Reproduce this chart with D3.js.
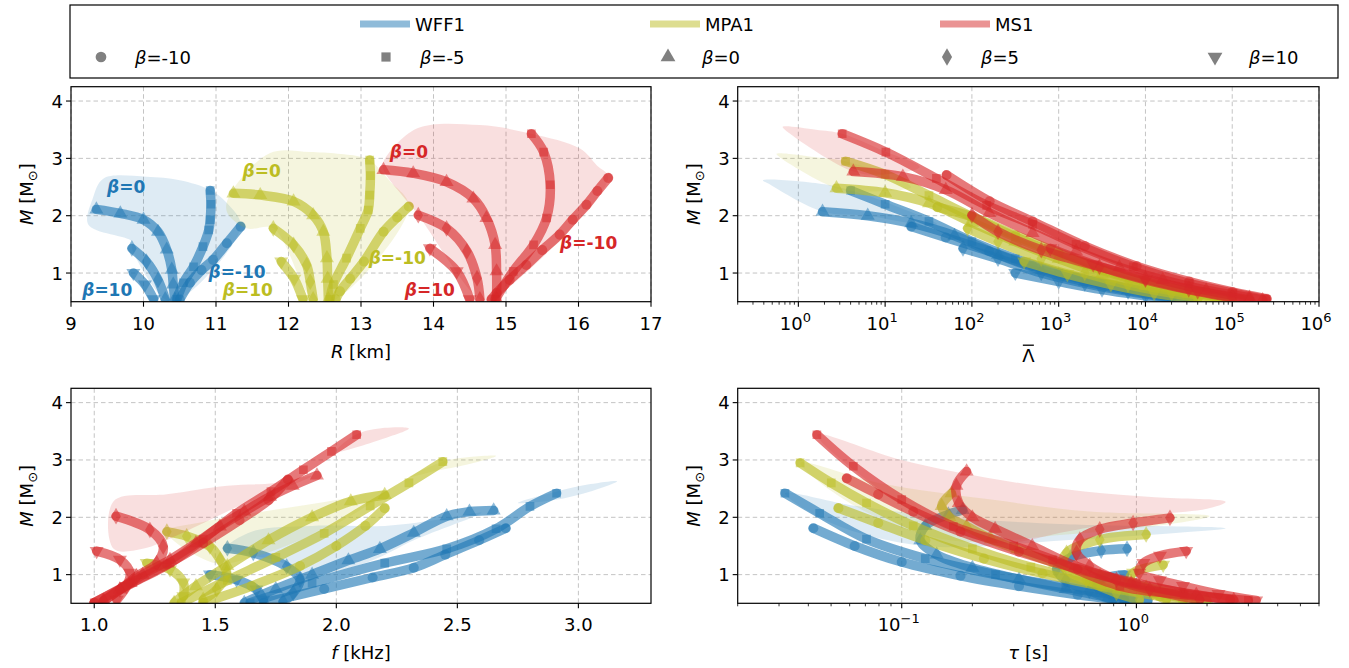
<!DOCTYPE html>
<html><head><meta charset="utf-8">
<script src="https://cdn.jsdelivr.net/npm/d3@7"></script>
<style>body{margin:0;background:#fff;} text{font-family:"DejaVu Sans",sans-serif;fill:#000;}</style>
</head><body><svg id="c" width="1349" height="668"></svg>
<script>
// ---------------- DATA ----------------
const eosNames = ["WFF1", "MPA1", "MS1"];
const eosColors = ["#1f77b4", "#bcbd22", "#d62728"];
const legendPatchColors = ["#8fbbd9", "#dddd90", "#ea9393"];
const betaValues = ["-10", "-5", "0", "5", "10"];

const rTicks = [9, 10, 11, 12, 13, 14, 15, 16, 17];
const fTicks = [1.0, 1.5, 2.0, 2.5, 3.0];
const mTicks = [1, 2, 3, 4];
const lambdaTicks = [1, 10, 100, 1000, 10000, 100000, 1000000];
const lambdaTickExp = ["0", "1", "2", "3", "4", "5", "6"];
const tauTicks = [0.1, 1];
const tauTickExp = ["−1", "0"];

// M–R curves, per EOS: beta = -10, -5, 0, 5, 10 ; points [R km, M Msun]
const mrWFF1 = [
  [[10.5,0.54],[10.64,0.83],[10.8,1.05],[10.96,1.23],[11.15,1.52],[11.34,1.81]],
  [[10.46,0.54],[10.55,0.83],[10.69,1.11],[10.82,1.46],[10.9,1.75],[10.92,1.93],[10.93,2.2],[10.92,2.44]],
  [[10.43,0.54],[10.41,0.8],[10.39,1.06],[10.32,1.41],[10.2,1.72],[10.0,1.93],[9.68,2.04],[9.35,2.11]],
  [[10.3,0.54],[10.2,0.88],[10.04,1.2],[9.84,1.43]],
  [[10.14,0.54],[10.02,0.8],[9.86,1.0]]
];
const mrMPA1 = [
  [[12.65,0.54],[12.71,0.68],[12.85,0.9],[13.04,1.2],[13.31,1.72],[13.5,1.97],[13.66,2.16]],
  [[12.57,0.54],[12.62,0.8],[12.8,1.26],[12.99,1.78],[13.1,2.1],[13.12,2.36],[13.13,2.7],[13.12,2.97]],
  [[12.55,0.54],[12.54,0.9],[12.53,1.26],[12.48,1.72],[12.34,2.01],[12.07,2.25],[11.61,2.36],[11.24,2.39]],
  [[12.34,0.54],[12.3,0.85],[12.25,1.14],[12.07,1.49],[11.79,1.78]],
  [[12.2,0.54],[12.08,0.9],[11.9,1.2]]
];
const mrMS1 = [
  [[14.8,0.54],[14.87,0.65],[15.05,0.88],[15.28,1.14],[15.5,1.4],[15.74,1.67],[15.92,1.93],[16.11,2.19],[16.26,2.43],[16.41,2.66]],
  [[14.85,0.54],[15.1,1.03],[15.38,1.49],[15.56,1.96],[15.61,2.54],[15.52,3.11],[15.35,3.43]],
  [[14.87,0.54],[14.87,1.03],[14.85,1.49],[14.73,1.96],[14.55,2.3],[14.18,2.59],[13.72,2.74],[13.31,2.8]],
  [[14.64,0.54],[14.6,0.91],[14.46,1.38],[14.18,1.78],[13.79,2.01]],
  [[14.5,0.54],[14.32,1.03],[13.95,1.43]]
];
const mrFanWFF1 = [[9.24,1.84],[9.3,2.3],[9.45,2.65],[10.04,2.68],[10.5,2.62],[10.92,2.45],[11.15,2.22],[11.34,1.81],[10.5,0.54],[10.3,0.54],[9.84,1.43],[9.84,1.55]];
const mrFanMPA1 = [[11.19,2.36],[11.74,3.09],[12.3,3.11],[12.99,3.03],[13.12,2.97],[13.4,2.6],[13.66,2.16],[12.65,0.54],[12.34,0.54],[11.79,1.78],[11.42,1.78],[11.15,2.07]];
const mrFanMS1 = [[13.31,2.94],[13.77,3.52],[14.64,3.58],[15.35,3.43],[16.02,3.17],[16.25,2.88],[16.41,2.66],[14.8,0.54],[14.64,0.54],[13.79,2.01],[13.31,2.8]];

// M–Lambda curves [Lambda, M]
const mlWFF1 = [
  [[20,1.81],[50,1.62],[158,1.38],[500,1.12],[1585,0.92],[5000,0.76],[15850,0.63],[35500,0.55]],
  [[4,2.44],[10,2.2],[32,1.9],[100,1.55],[316,1.25],[1000,1.0],[3160,0.82],[10000,0.67],[31600,0.55]],
  [[1.9,2.07],[6.3,2.0],[20,1.87],[63,1.65],[200,1.32],[630,1.05],[2000,0.85],[6300,0.7],[15850,0.6],[31600,0.53]],
  [[79,1.43],[200,1.25],[630,1.0],[2000,0.82],[6300,0.68],[20000,0.56]],
  [[316,1.0],[1000,0.85],[3160,0.71],[10000,0.6],[20000,0.54]]
];
const mlMPA1 = [
  [[40,2.15],[100,1.98],[316,1.66],[1000,1.35],[3160,1.07],[10000,0.85],[31600,0.68],[100000,0.55]],
  [[3.5,2.95],[10,2.72],[32,2.35],[100,1.98],[316,1.63],[1000,1.32],[3160,1.05],[10000,0.83],[31600,0.67],[100000,0.54]],
  [[2.75,2.48],[10,2.4],[32,2.22],[100,1.88],[316,1.55],[1000,1.25],[3160,0.98],[10000,0.78],[31600,0.64],[89000,0.53]],
  [[89,1.78],[200,1.55],[630,1.25],[2000,1.0],[6300,0.8],[20000,0.65],[63000,0.53]],
  [[400,1.2],[1260,0.98],[4000,0.8],[12600,0.65],[40000,0.54]]
];
const mlMS1 = [
  [[51,2.71],[160,2.25],[500,1.9],[2000,1.47],[7900,1.12],[32000,0.85],[100000,0.67],[250000,0.55]],
  [[3.2,3.43],[10.2,3.11],[39,2.65],[148,2.18],[500,1.85],[1585,1.5],[7244,1.11],[31600,0.82],[102000,0.65],[245000,0.54]],
  [[4.3,2.77],[16,2.68],[50,2.45],[158,2.05],[500,1.7],[1585,1.38],[5000,1.1],[15850,0.88],[50000,0.7],[158000,0.57],[224000,0.53]],
  [[100,2.01],[200,1.72],[630,1.4],[2950,1.11],[10000,0.9],[31600,0.72],[100000,0.58],[158000,0.53]],
  [[800,1.43],[2500,1.15],[10000,0.88],[40000,0.68],[126000,0.54]]
];
const mlFanWFF1 = [[0.39,2.62],[2,2.55],[5,2.4],[16,2.12],[40,1.85],[20,1.87],[6.3,2.0],[1.9,2.07],[0.45,2.56]];
const mlFanMPA1 = [[0.56,3.08],[2,3.0],[3.5,2.95],[10,2.72],[20,2.5],[6,2.42],[2.75,2.48],[0.6,3.03]];
const mlFanMS1 = [[0.66,3.55],[1.6,3.5],[3.2,3.43],[10,3.12],[25,2.85],[10,2.72],[4.3,2.77],[0.7,3.5]];

// M–f curves [f kHz, M]
const mfWFF1 = [
  [[1.7,0.51],[1.95,0.75],[2.15,0.95],[2.32,1.12],[2.45,1.35],[2.59,1.6],[2.7,1.81]],
  [[1.644,0.51],[1.9,0.85],[2.2,1.2],[2.456,1.45],[2.66,1.8],[2.8,2.19],[2.91,2.42]],
  [[1.62,0.51],[1.75,0.75],[1.9,1.0],[2.05,1.25],[2.18,1.45],[2.32,1.73],[2.456,2.02],[2.55,2.1],[2.65,2.12]],
  [[1.78,0.53],[1.822,0.68],[1.85,0.91],[1.795,1.14],[1.657,1.38],[1.55,1.46]],
  [[1.698,0.56],[1.67,0.74],[1.588,0.91],[1.478,1.0]]
];
const mfMPA1 = [
  [[1.45,0.51],[1.65,0.8],[1.85,1.15],[2.0,1.5],[2.12,1.85],[2.2,2.16]],
  [[1.36,0.51],[1.55,0.9],[1.75,1.3],[1.95,1.72],[2.14,2.2],[2.3,2.6],[2.44,2.97]],
  [[1.33,0.51],[1.42,0.8],[1.55,1.15],[1.72,1.6],[1.9,2.0],[2.06,2.28],[2.2,2.39]],
  [[1.45,0.56],[1.506,0.74],[1.547,1.03],[1.52,1.26],[1.478,1.49],[1.382,1.67],[1.3,1.75]],
  [[1.368,0.62],[1.368,0.86],[1.313,1.09],[1.217,1.2]]
];
const mfMS1 = [
  [[1.0,0.51],[1.15,0.85],[1.3,1.18],[1.45,1.55],[1.6,1.95],[1.72,2.3],[1.8,2.66]],
  [[1.0,0.51],[1.16,0.86],[1.313,1.2],[1.45,1.62],[1.588,2.07],[1.73,2.45],[1.864,2.83],[1.98,3.15],[2.084,3.44]],
  [[1.04,0.54],[1.106,0.74],[1.2,1.0],[1.313,1.26],[1.42,1.55],[1.519,1.84],[1.62,2.1],[1.726,2.36],[1.82,2.55],[1.92,2.73]],
  [[1.037,0.54],[1.106,0.74],[1.175,0.97],[1.258,1.2],[1.285,1.49],[1.23,1.78],[1.09,2.02]],
  [[1.093,0.56],[1.134,0.8],[1.148,1.03],[1.106,1.26],[1.01,1.41]]
];
const mfFanWFF1 = [[[1.55,1.46],[1.65,1.75],[1.9,1.85],[2.2,1.85],[2.45,1.98],[2.6,2.08],[2.32,1.6],[2.15,1.25],[1.95,1.0],[1.85,0.9],[1.78,1.2]],
                   [[2.75,2.25],[2.91,2.45],[3.05,2.58],[3.16,2.63],[3.05,2.45],[2.9,2.3]]];
const mfFanMPA1 = [[[1.3,1.75],[1.45,1.92],[1.7,2.1],[2.0,2.3],[2.2,2.45],[2.05,2.0],[1.85,1.6],[1.65,1.3],[1.5,1.2]],
                   [[2.3,2.7],[2.44,2.97],[2.55,3.05],[2.66,3.07],[2.55,2.93],[2.4,2.8]]];
const mfFanMS1 = [[[1.08,1.45],[1.08,2.28],[1.3,2.4],[1.55,2.55],[1.75,2.6],[1.9,2.72],[1.6,2.2],[1.35,1.7],[1.2,1.45]],
                  [[2.0,3.15],[2.08,3.44],[2.2,3.56],[2.3,3.55],[2.2,3.38]]];

// M–tau curves [tau s, M]
const mtWFF1 = [
  [[0.042,1.81],[0.063,1.5],[0.1,1.22],[0.178,0.98],[0.316,0.8],[0.562,0.65],[0.89,0.55]],
  [[0.0318,2.42],[0.0447,2.07],[0.0708,1.62],[0.126,1.28],[0.251,1.0],[0.5,0.78],[0.89,0.62],[1.12,0.55]],
  [[0.182,2.13],[0.158,2.05],[0.126,1.85],[0.12,1.6],[0.141,1.35],[0.2,1.12],[0.316,0.92],[0.5,0.75],[0.76,0.6],[0.89,0.54]],
  [[0.912,1.45],[0.708,1.42],[0.525,1.3],[0.457,1.1],[0.5,0.9],[0.63,0.72],[0.794,0.56]],
  [[0.89,1.0],[0.708,0.92],[0.676,0.8],[0.794,0.65],[0.955,0.55]]
];
const mtMPA1 = [
  [[0.0537,2.16],[0.0794,1.9],[0.126,1.6],[0.224,1.28],[0.398,1.02],[0.708,0.8],[1.26,0.62],[1.58,0.55]],
  [[0.0369,2.95],[0.0501,2.6],[0.0708,2.25],[0.112,1.85],[0.2,1.45],[0.355,1.13],[0.63,0.88],[1.12,0.7],[1.78,0.56]],
  [[0.163,2.42],[0.148,2.2],[0.16,2.0],[0.189,1.84],[0.24,1.62],[0.31,1.44],[0.45,1.2],[0.7,0.98],[1.1,0.78],[1.6,0.62],[2.0,0.55]],
  [[1.1,1.7],[0.698,1.61],[0.504,1.38],[0.488,1.15],[0.612,0.91],[0.822,0.68],[1.03,0.56]],
  [[1.3,1.17],[0.968,1.03],[0.938,0.86],[1.175,0.68],[1.34,0.56]]
];
const mtMS1 = [
  [[0.0583,2.68],[0.0794,2.4],[0.112,2.1],[0.178,1.75],[0.316,1.4],[0.562,1.1],[1.0,0.85],[1.58,0.68],[2.51,0.56]],
  [[0.0435,3.44],[0.0622,2.89],[0.1,2.31],[0.166,1.84],[0.3,1.5],[0.44,1.26],[0.85,0.8],[1.6,0.65],[3.0,0.55]],
  [[0.189,2.8],[0.171,2.55],[0.175,2.25],[0.2,2.0],[0.25,1.8],[0.36,1.5],[0.55,1.15],[0.95,0.85],[1.8,0.65],[2.6,0.56]],
  [[1.39,1.99],[0.968,1.9],[0.698,1.79],[0.574,1.61],[0.556,1.38],[0.632,1.15],[0.822,0.91],[1.14,0.74],[1.86,0.56]],
  [[1.63,1.41],[1.26,1.33],[1.07,1.2],[1.03,1.03],[1.26,0.9],[1.58,0.8],[2.24,0.66],[3.24,0.55]]
];
const mtFanWFF1 = [[0.0318,2.42],[0.063,2.2],[0.158,2.0],[0.5,1.88],[2.4,1.81],[1.6,1.74],[0.5,1.6],[0.126,1.5],[0.05,1.9]];
const mtFanMPA1 = [[0.037,2.95],[0.08,2.6],[0.25,2.3],[0.63,2.1],[2.05,2.02],[1.6,1.92],[0.5,1.7],[0.16,1.6],[0.063,2.2]];
const mtFanMS1 = [[0.0437,3.44],[0.1,3.0],[0.263,2.65],[0.6,2.45],[1.2,2.35],[2.4,2.27],[2.0,2.15],[1.26,2.05],[0.5,1.75],[0.25,1.55],[0.126,2.0],[0.0794,2.5]];

// beta annotations in M–R panel: [R, M (baseline), eosIndex, text]
const mrLabels = [
  [9.76, 2.40, 0, "0"], [9.50, 0.60, 0, "10"], [11.29, 0.91, 0, "-10"],
  [11.63, 2.67, 1, "0"], [11.44, 0.60, 1, "10"], [13.50, 1.16, 1, "-10"],
  [13.66, 3.01, 2, "0"], [13.95, 0.60, 2, "10"], [16.14, 1.42, 2, "-10"]
];

// ---------------- DRAW ----------------
const svg = d3.select("#c");
const symbolTypes = [d3.symbolCircle, d3.symbolSquare, d3.symbolTriangle, d3.symbolDiamond, d3.symbolTriangle];
const symbolRot = [0, 0, 0, 0, 180];
const symbolSizes = [80, 75, 85, 80, 85];

function mkText(g, x, y, parts, opts = {}) {
  const t = g.append("text").attr("x", x).attr("y", y)
    .attr("font-size", opts.size || 18)
    .attr("text-anchor", opts.anchor || "start");
  if (opts.weight) t.attr("font-weight", opts.weight);
  if (opts.fill) t.style("fill", opts.fill);
  if (opts.transform) t.attr("transform", opts.transform);
  parts.forEach(p => {
    const s = t.append("tspan").text(p.t);
    if (p.i) s.attr("font-style", "italic");
    if (p.dy) s.attr("dy", p.dy);
    if (p.fs) s.attr("font-size", p.fs);
  });
  return t;
}

function makePanel(cfg) {
  const g = svg.append("g");
  const { x0, x1, y0, y1 } = cfg;
  const xs = cfg.xs.range([x0, x1]);
  const ys = d3.scaleLinear().domain([0.5, 4.25]).range([y1, y0]);
  const id = "clip" + cfg.id;
  svg.append("clipPath").attr("id", id).append("rect")
    .attr("x", x0).attr("y", y0).attr("width", x1 - x0).attr("height", y1 - y0);
  const grid = g.append("g").attr("stroke", "#c4c4c4").attr("stroke-width", 1).attr("stroke-dasharray", "4.5,3");
  cfg.xMajor.forEach(v => grid.append("line").attr("x1", xs(v)).attr("x2", xs(v)).attr("y1", y0).attr("y2", y1));
  mTicks.forEach(v => grid.append("line").attr("x1", x0).attr("x2", x1).attr("y1", ys(v)).attr("y2", ys(v)));
  const plot = g.append("g").attr("clip-path", `url(#${id})`);
  const ax = g.append("g").attr("stroke", "#000");
  cfg.xMajor.forEach(v => ax.append("line").attr("x1", xs(v)).attr("x2", xs(v)).attr("y1", y1).attr("y2", y1 + 5).attr("stroke-width", 1.1));
  (cfg.xMinor || []).forEach(v => ax.append("line").attr("x1", xs(v)).attr("x2", xs(v)).attr("y1", y1).attr("y2", y1 + 3).attr("stroke-width", 0.8));
  mTicks.forEach(v => ax.append("line").attr("x1", x0 - 5).attr("x2", x0).attr("y1", ys(v)).attr("y2", ys(v)).attr("stroke-width", 1.1));
  cfg.xMajor.forEach((v, i) => {
    if (cfg.xExp) {
      mkText(g, xs(v) - 3, y1 + 28, [{ t: "10" }, { t: cfg.xExp[i], dy: -8, fs: 13 }], { anchor: "middle", size: 18 });
    } else {
      mkText(g, xs(v), y1 + 28, [{ t: cfg.xFmt(v) }], { anchor: "middle", size: 18 });
    }
  });
  mTicks.forEach(v => mkText(g, x0 - 8, ys(v) + 6.5, [{ t: String(v) }], { anchor: "end", size: 18 }));
  if (cfg.xTitle) mkText(g, (x0 + x1) / 2, y1 + 56, cfg.xTitle, { anchor: "middle", size: 18 });
  const yc = (y0 + y1) / 2, xc = x0 - 38;
  mkText(g, 0, 0, [{ t: "M", i: true }, { t: " [M" }, { t: "⊙", dy: 4, fs: 13 }, { t: "]", dy: -4 }],
    { anchor: "middle", size: 18, transform: `translate(${xc},${yc}) rotate(-90)` });
  g.append("rect").attr("class", "frame").attr("x", x0).attr("y", y0).attr("width", x1 - x0).attr("height", y1 - y0)
    .attr("fill", "none").attr("stroke", "#000").attr("stroke-width", 1.2);
  return { g, plot, xs, ys, frame: g.select("rect.frame") };
}

function drawSet(P, curvesByEos, fansByEos) {
  const line = d3.line().x(d => P.xs(d[0])).y(d => P.ys(d[1])).curve(d3.curveCatmullRom.alpha(0.5));
  const closed = d3.line().x(d => P.xs(d[0])).y(d => P.ys(d[1])).curve(d3.curveCatmullRomClosed.alpha(0.5));
  curvesByEos.forEach((curves, e) => {
    const col = eosColors[e];
    let fans = fansByEos[e];
    if (!Array.isArray(fans[0][0])) fans = [fans];
    fans.forEach(f => {
      P.plot.append("path").attr("d", closed(f))
        .attr("fill", col).attr("fill-opacity", 0.15).attr("stroke", "none");
    });
    curves.forEach((pts, b) => {
      P.plot.append("path").attr("d", line(pts)).attr("fill", "none").attr("stroke", col)
        .attr("stroke-width", 9.5).attr("stroke-opacity", 0.62).attr("stroke-linecap", "round").attr("stroke-linejoin", "round");
      const sym = d3.symbol().type(symbolTypes[b]).size(symbolSizes[b]);
      P.plot.selectAll(null).data(pts).enter().append("path")
        .attr("d", sym)
        .attr("transform", d => `translate(${P.xs(d[0])},${P.ys(d[1])}) rotate(${symbolRot[b]})`)
        .attr("fill", col).attr("fill-opacity", 0.5);
    });
  });
  P.frame.raise();
}

// Panel 1: M-R
const P1 = makePanel({ id: 1, x0: 71, x1: 651, y0: 86.7, y1: 301.7, xs: d3.scaleLinear().domain([9, 17]),
  xMajor: rTicks, xFmt: v => String(v), xTitle: [{ t: "R", i: true }, { t: " [km]" }] });
drawSet(P1, [mrWFF1, mrMPA1, mrMS1], [mrFanWFF1, mrFanMPA1, mrFanMS1]);
mrLabels.forEach(l => {
  mkText(P1.g, P1.xs(l[0]), P1.ys(l[1]), [{ t: "β", i: true }, { t: "=" + l[3] }],
    { anchor: "middle", size: 17, weight: "bold", fill: eosColors[l[2]] });
});

// Panel 2: M-Lambda
const lamMinor = [];
[0.1, 1, 10, 100, 1000, 10000, 100000].forEach(d => { for (let k = 2; k <= 9; k++) { const v = k * d; if (v >= 0.2 && v < 1e6) lamMinor.push(v); } });
const P2 = makePanel({ id: 2, x0: 737.7, x1: 1319, y0: 86.7, y1: 301.7, xs: d3.scaleLog().domain([0.2, 1e6]),
  xMajor: lambdaTicks, xExp: lambdaTickExp, xMinor: lamMinor, xTitle: null });
drawSet(P2, [mlWFF1, mlMPA1, mlMS1], [mlFanWFF1, mlFanMPA1, mlFanMS1]);
{
  const cx = (737.7 + 1319) / 2, by = 301.7 + 60;
  mkText(P2.g, cx, by, [{ t: "Λ" }], { anchor: "middle", size: 18 });
  P2.g.append("line").attr("x1", cx - 5.5).attr("x2", cx + 5.5).attr("y1", by - 16.5).attr("y2", by - 16.5)
    .attr("stroke", "#000").attr("stroke-width", 1.3);
}

// Panel 3: M-f
const P3 = makePanel({ id: 3, x0: 71, x1: 651, y0: 388.3, y1: 603.3, xs: d3.scaleLinear().domain([0.904, 3.3]),
  xMajor: fTicks, xFmt: v => v.toFixed(1), xTitle: [{ t: "f", i: true }, { t: " [kHz]" }] });
drawSet(P3, [mfWFF1, mfMPA1, mfMS1], [mfFanWFF1, mfFanMPA1, mfFanMS1]);

// Panel 4: M-tau
const tauMinor = [0.02, 0.03, 0.04, 0.05, 0.06, 0.07, 0.08, 0.09, 0.2, 0.3, 0.4, 0.5, 0.6, 0.7, 0.8, 0.9, 2, 3, 4, 5, 6];
const P4 = makePanel({ id: 4, x0: 737.7, x1: 1319, y0: 388.3, y1: 603.3, xs: d3.scaleLog().domain([0.02, 6]),
  xMajor: tauTicks, xExp: tauTickExp, xMinor: tauMinor, xTitle: [{ t: "τ", i: true }, { t: " [s]" }] });
drawSet(P4, [mtWFF1, mtMPA1, mtMS1], [mtFanWFF1, mtFanMPA1, mtFanMS1]);

// Legend
const L = svg.append("g");
L.append("rect").attr("x", 70).attr("y", 5).attr("width", 1268).attr("height", 73)
  .attr("fill", "#fff").attr("stroke", "#000").attr("stroke-width", 1.2);
const eosLegX = [360, 650, 940];
eosNames.forEach((n, i) => {
  L.append("line").attr("x1", eosLegX[i]).attr("x2", eosLegX[i] + 50).attr("y1", 24).attr("y2", 24)
    .attr("stroke", legendPatchColors[i]).attr("stroke-width", 7);
  mkText(L, eosLegX[i] + 55, 30.5, [{ t: n }], { size: 18 });
});
const betaLegX = [101, 386, 668, 947, 1215];
betaValues.forEach((b, i) => {
  L.append("path").attr("d", d3.symbol().type(symbolTypes[i]).size(symbolSizes[i] + 10))
    .attr("transform", `translate(${betaLegX[i]},57) rotate(${symbolRot[i]})`).attr("fill", "#808080");
  mkText(L, betaLegX[i] + 34, 63.5, [{ t: "β", i: true }, { t: "=" + b }], { size: 18 });
});
</script></body></html>
